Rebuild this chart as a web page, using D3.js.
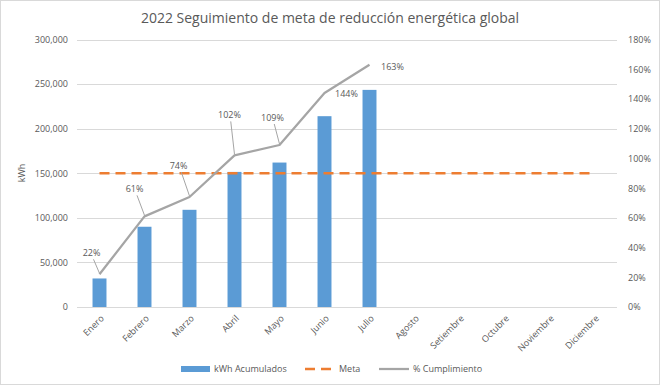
<!DOCTYPE html>
<html>
<head>
<meta charset="utf-8">
<script src="https://cdn.jsdelivr.net/npm/d3@7"></script>
<style>
  body { margin: 0; background: #fff; }
  svg text { font-family: "Open Sans", "Noto Sans", sans-serif; fill: #595959; }
</style>
</head>
<body>
<div id="chart"></div>
<script>
// data
var months = ["Enero", "Febrero", "Marzo", "Abril", "Mayo", "Junio", "Julio",
              "Agosto", "Setiembre", "Octubre", "Noviembre", "Diciembre"];
var kwhAcumulados = [32000, 90000, 109000, 151500, 162000, 214000, 243500];
var meta = [150000, 150000, 150000, 150000, 150000, 150000, 150000, 150000, 150000, 150000, 150000, 150000];
var cumplimiento = [22, 61, 74, 102, 109, 144, 163];
var leftTicks = [0, 50000, 100000, 150000, 200000, 250000, 300000];
var rightTicks = [0, 20, 40, 60, 80, 100, 120, 140, 160, 180];
// label placement offsets (dx, dy) for the % data labels, and whether a leader line is drawn
var labelOffsets = [[-8, -21], [-10, -27], [-11, -31], [-5, -40], [-7, -27], [22, 1], [23, 2]];
var leaderLines = [true, true, true, true, true, false, false];

var width = 660, height = 385,
    plotLeft = 77, plotRight = 617, plotTop = 39.5, plotBottom = 307;

var svg = d3.select("#chart").append("svg")
    .attr("width", width)
    .attr("height", height);

svg.append("rect")
    .attr("x", 0.5).attr("y", 0.5)
    .attr("width", width - 1).attr("height", height - 1)
    .attr("fill", "#fff")
    .attr("stroke", "#d9d9d9");

var x = d3.scaleBand()
    .domain(months)
    .range([plotLeft, plotRight])
    .paddingInner(0.69)
    .paddingOuter(0.345);

var xc = function (m) { return x(m) + x.bandwidth() / 2; };

var y = d3.scaleLinear().domain([0, 300000]).range([plotBottom, plotTop]);
var y2 = d3.scaleLinear().domain([0, 180]).range([plotBottom, plotTop]);

// grid
svg.append("g")
    .selectAll("line")
    .data(leftTicks)
    .join("line")
    .attr("x1", plotLeft).attr("x2", plotRight)
    .attr("y1", function (d) { return Math.round(y(d)) + 0.5; })
    .attr("y2", function (d) { return Math.round(y(d)) + 0.5; })
    .attr("stroke", "#d9d9d9")
    .attr("stroke-width", 1);

// left axis
var yAxis = d3.axisLeft(y)
    .tickValues(leftTicks)
    .tickSize(0)
    .tickPadding(9)
    .tickFormat(d3.format(","));
var gy = svg.append("g")
    .attr("transform", "translate(" + plotLeft + ",0)")
    .call(yAxis);
gy.select(".domain").remove();
gy.selectAll("text").style("font-size", "9px").attr("fill", "#595959");

// right axis
var y2Axis = d3.axisRight(y2)
    .tickValues(rightTicks)
    .tickSize(0)
    .tickPadding(11)
    .tickFormat(function (d) { return d + "%"; });
var gy2 = svg.append("g")
    .attr("transform", "translate(" + plotRight + ",0)")
    .call(y2Axis);
gy2.select(".domain").remove();
gy2.selectAll("text").style("font-size", "9px").attr("fill", "#595959");

// x axis labels
var xAxis = d3.axisBottom(x).tickSize(0).tickPadding(0);
var gx = svg.append("g")
    .attr("transform", "translate(0," + plotBottom + ")")
    .call(xAxis);
gx.select(".domain").remove();
gx.selectAll("text")
    .style("font-size", "9px")
    .attr("fill", "#595959")
    .attr("text-anchor", "end")
    .attr("dy", null)
    .attr("y", 0)
    .attr("transform", "translate(5,12) rotate(-45)");

// bars
svg.append("g")
    .selectAll("rect")
    .data(kwhAcumulados)
    .join("rect")
    .attr("x", function (d, i) { return x(months[i]); })
    .attr("y", function (d) { return y(d); })
    .attr("width", x.bandwidth())
    .attr("height", function (d) { return plotBottom - y(d); })
    .attr("fill", "#5b9bd5");

// meta dashed line
svg.append("path")
    .datum(meta)
    .attr("fill", "none")
    .attr("stroke", "#ed7d31")
    .attr("stroke-width", 2.5)
    .attr("stroke-dasharray", "10,6")
    .attr("d", d3.line()
        .x(function (d, i) { return xc(months[i]); })
        .y(function (d) { return y(d); }));

// % cumplimiento line
svg.append("path")
    .datum(cumplimiento)
    .attr("fill", "none")
    .attr("stroke", "#a5a5a5")
    .attr("stroke-width", 2.25)
    .attr("stroke-linejoin", "round")
    .attr("d", d3.line()
        .x(function (d, i) { return xc(months[i]); })
        .y(function (d) { return y2(d); }));

// data labels with leader lines
var lbl = svg.append("g");
cumplimiento.forEach(function (d, i) {
    var px = xc(months[i]), py = y2(d);
    var lx = px + labelOffsets[i][0], ly = py + labelOffsets[i][1];
    if (leaderLines[i]) {
        lbl.append("line")
            .attr("x1", px).attr("y1", py - 1)
            .attr("x2", lx + (px - lx) * 0.25).attr("y2", ly + 6)
            .attr("stroke", "#a5a5a5")
            .attr("stroke-width", 1);
    }
    lbl.append("text")
        .attr("x", lx).attr("y", ly + 3)
        .attr("text-anchor", "middle")
        .style("font-size", "9px")
        .text(d + "%");
});

// title
svg.append("text")
    .attr("x", 330).attr("y", 23)
    .attr("text-anchor", "middle")
    .style("font-size", "14px")
    .text("2022 Seguimiento de meta de reducción energética global");

// y title
svg.append("text")
    .attr("transform", "translate(25,173) rotate(-90)")
    .attr("text-anchor", "middle")
    .style("font-size", "9px")
    .text("kWh");

// legend
var legend = svg.append("g").attr("transform", "translate(0,369)");
legend.append("rect")
    .attr("x", 181).attr("y", -3).attr("width", 29).attr("height", 6)
    .attr("fill", "#5b9bd5");
legend.append("text").attr("x", 214).attr("y", 3).style("font-size", "9px").text("kWh Acumulados");
legend.append("line")
    .attr("x1", 305).attr("x2", 335).attr("y1", 0).attr("y2", 0)
    .attr("stroke", "#ed7d31").attr("stroke-width", 2.5)
    .attr("stroke-dasharray", "10,6");
legend.append("text").attr("x", 339).attr("y", 3).style("font-size", "9px").text("Meta");
legend.append("line")
    .attr("x1", 379).attr("x2", 409).attr("y1", 0).attr("y2", 0)
    .attr("stroke", "#a5a5a5").attr("stroke-width", 2.25);
legend.append("text").attr("x", 413).attr("y", 3).style("font-size", "9px").text("% Cumplimiento");
</script>
</body>
</html>
